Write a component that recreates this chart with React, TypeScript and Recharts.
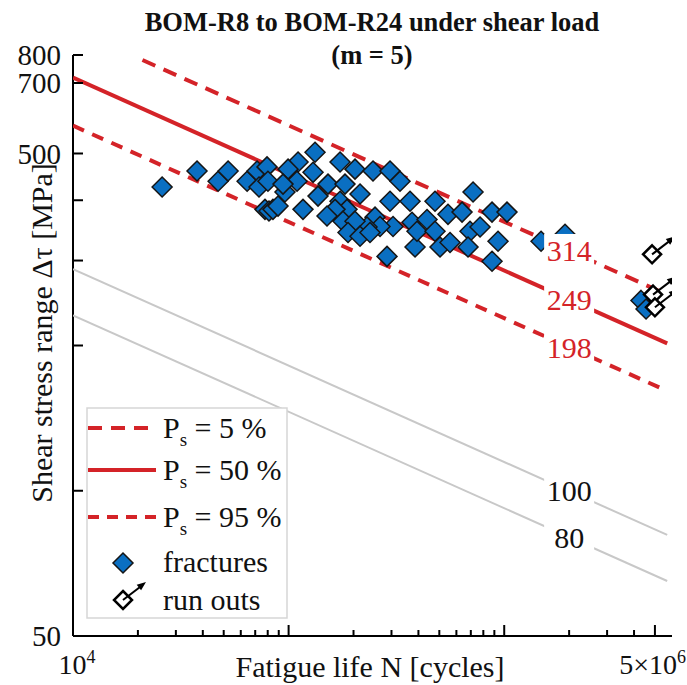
import { ComposedChart, Scatter, XAxis, YAxis } from "recharts"

const RED = "#d42328"
const BLUE = "#0a6fc2"
const GREY = "#c8c8c8"
const FONT = '"Liberation Serif", "Times New Roman", serif'

// S-N curves (m = 5): end points
const curveN = [1e4, 5.7e6]
const p50S = [718, 202]
const p95S = [571, 161]
const p05N = [2.1e4, 5.7e6]
const p05S = [781, 255]
const ref100S = [288, 81]
const ref80S = [231, 65]

// curve labels sit at N = 2e6
const labelN = 2e6
const redLabels = [314, 249, 198]
const greyLabels = [100, 80]

// fractures
const fracN = [
  25900, 37600, 47100, 52400, 64200, 71400, 72900, 79400, 80200, 77700,
  81100, 84600, 89300, 96200, 132600, 110600, 173200, 203200, 246300, 295300,
  328600, 99400, 129800, 109400, 152300, 182600, 94200, 136900, 214400, 173200,
  295300, 365700, 116600, 186600, 164200, 150700, 251600, 373600, 305000, 265400,
  231000, 178800, 203200, 188600, 214400, 238500, 286000, 385800, 716800, 477500,
  548500, 637400, 877900, 1030000, 438500, 394000, 477500, 694000, 772500, 936000,
  503800, 560600, 679400, 877900, 1482000, 1914000, 4310000, 4547000,
]
const fracS = [
  426, 460, 438, 460, 438, 460, 426, 469, 438, 383,
  380, 383, 389, 416, 503, 480, 480, 464, 460, 460,
  438, 464, 457, 438, 432, 432, 432, 408, 412, 398,
  398, 398, 383, 383, 383, 371, 369, 360, 353, 353,
  352, 362, 362, 343, 337, 343, 306, 320, 416, 398,
  374, 378, 378, 378, 365, 345, 345, 345, 352, 329,
  320, 327, 320, 299, 329, 340, 248, 238,
]

// run outs
const runOutN = [4.85e6, 4.9e6, 5.0e6]
const runOutS = [309, 255, 240]

const xTicks = [
  1e4, 2e4, 3e4, 4e4, 5e4, 6e4, 7e4, 8e4, 9e4,
  1e5, 2e5, 3e5, 4e5, 5e5, 6e5, 7e5, 8e5, 9e5,
  1e6, 2e6, 3e6, 4e6, 5e6,
]
const xMajor = [1e4, 1e5, 1e6, 5e6]
const xTickText: Record<number, [string, string]> = {
  10000: ["10", "4"],
  5000000: ["5×10", "6"],
}
const yTicks = [50, 100, 200, 300, 400, 500, 700, 800]
const yLabelled = [50, 500, 700, 800]

const zip = (ns: number[], ss: number[]) => ns.map((N, i) => ({ N, S: ss[i] }))

const diamond = (cx: number, cy: number, r: number) =>
  `M${cx},${cy - r}L${cx + r},${cy}L${cx},${cy + r}L${cx - r},${cy}Z`

const noDot = () => <g />

function Fracture({ cx, cy }: any) {
  return <path d={diamond(cx, cy, 10)} fill={BLUE} stroke="#151515" strokeWidth={1.5} />
}

function RunOutIcon({ cx, cy }: { cx: number; cy: number }) {
  return (
    <g>
      <path d={diamond(cx, cy, 9)} fill="#fff" stroke="#000" strokeWidth={2.5} />
      <line x1={cx} y1={cy} x2={cx + 17} y2={cy - 13} stroke="#000" strokeWidth={2} />
      <path
        d={`M${cx + 23},${cy - 18}L${cx + 18.1},${cy - 9.7}L${cx + 13.7},${cy - 15.3}Z`}
        fill="#000"
      />
    </g>
  )
}

function RunOut({ cx, cy }: any) {
  return <RunOutIcon cx={cx} cy={cy} />
}

function curveLabel(color: string) {
  return ({ cx, cy, payload }: any) => (
    <g>
      <rect x={cx - 25} y={cy - 17} width={50} height={34} fill="#fff" />
      <text
        x={cx}
        y={cy}
        dy="0.35em"
        textAnchor="middle"
        fontSize={30}
        fontFamily={FONT}
        fill={color}
      >
        {payload.S}
      </text>
    </g>
  )
}

function XTick({ x, y, payload }: any) {
  const v = payload.value
  const len = xMajor.includes(v) ? 11 : 6
  const lab = xTickText[v]
  // keep the last label inside the picture
  const last = v === xTicks[xTicks.length - 1]
  return (
    <g>
      <line x1={x} x2={x} y1={y} y2={y - len} stroke="#000" strokeWidth={2} />
      {lab && (
        <text
          x={last ? 686 : x + 4}
          y={y + 38}
          textAnchor={last ? "end" : "middle"}
          fontSize={28}
          fontFamily={FONT}
          fill="#111"
        >
          {lab[0]}
          <tspan dy={-11} fontSize={18}>
            {lab[1]}
          </tspan>
        </text>
      )}
    </g>
  )
}

function YTick({ x, y, payload }: any) {
  const v = payload.value
  return (
    <g>
      <line x1={x} x2={x + 10} y1={y} y2={y} stroke="#000" strokeWidth={2} />
      {yLabelled.includes(v) && (
        <text x={x - 12} y={y} dy="0.35em" textAnchor="end" fontSize={29} fontFamily={FONT} fill="#111">
          {v}
        </text>
      )}
    </g>
  )
}

function Legend() {
  const rows = [
    { y: 428, dash: "14 9", sub: " = 5 %" },
    { y: 470, dash: undefined, sub: " = 50 %" },
    { y: 517, dash: "11 8", sub: " = 95 %" },
  ]
  return (
    <g fontFamily={FONT} fontSize={30} fill="#111">
      <rect x={87} y={408} width={200} height={210} fill="#fff" stroke="#d6d6d6" strokeWidth={1.5} />
      {rows.map((r) => (
        <g key={r.y}>
          <line x1={88} x2={156} y1={r.y} y2={r.y} stroke={RED} strokeWidth={4} strokeDasharray={r.dash} />
          <text x={163} y={r.y + 10}>
            P
            <tspan dy={8} fontSize={19}>
              s
            </tspan>
            <tspan dy={-8}>{r.sub}</tspan>
          </text>
        </g>
      ))}
      <path d={diamond(123, 563, 10)} fill={BLUE} stroke="#151515" strokeWidth={1.5} />
      <text x={163} y={572}>fractures</text>
      <RunOutIcon cx={123} cy={600} />
      <text x={163} y={610}>run outs</text>
    </g>
  )
}

export default function App() {
  return (
    <div style={{ position: "absolute", left: 0, top: 0, width: 687, height: 685, background: "#fff" }}>
      <ComposedChart
        width={687}
        height={685}
        margin={{ top: 55, right: 15, bottom: 19, left: 13 }}
      >
        <XAxis
          dataKey="N"
          type="number"
          scale="log"
          domain={[1e4, 6e6]}
          allowDataOverflow
          ticks={xTicks}
          interval={0}
          height={30}
          tickSize={0}
          tickMargin={0}
          tickLine={false}
          tick={<XTick />}
          axisLine={{ stroke: "#000", strokeWidth: 2 }}
        />
        <YAxis
          dataKey="S"
          type="number"
          scale="log"
          domain={[50, 800]}
          allowDataOverflow
          ticks={yTicks}
          interval={0}
          width={60}
          tickSize={0}
          tickMargin={0}
          tickLine={false}
          tick={<YTick />}
          axisLine={{ stroke: "#000", strokeWidth: 2 }}
        />
        <Scatter data={zip(curveN, ref100S)} line={{ stroke: GREY, strokeWidth: 2 }} shape={noDot} isAnimationActive={false} />
        <Scatter data={zip(curveN, ref80S)} line={{ stroke: GREY, strokeWidth: 2 }} shape={noDot} isAnimationActive={false} />
        <Scatter data={zip(p05N, p05S)} line={{ stroke: RED, strokeWidth: 4, strokeDasharray: "14 9" }} shape={noDot} isAnimationActive={false} />
        <Scatter data={zip(curveN, p50S)} line={{ stroke: RED, strokeWidth: 4 }} shape={noDot} isAnimationActive={false} />
        <Scatter data={zip(curveN, p95S)} line={{ stroke: RED, strokeWidth: 4, strokeDasharray: "12 9" }} shape={noDot} isAnimationActive={false} />
        <Scatter data={zip(fracN, fracS)} shape={Fracture} isAnimationActive={false} />
        <Scatter data={zip(runOutN, runOutS)} shape={RunOut} isAnimationActive={false} />
        <Scatter
          data={redLabels.map((S) => ({ N: labelN, S }))}
          shape={curveLabel(RED)}
          isAnimationActive={false}
        />
        <Scatter
          data={greyLabels.map((S) => ({ N: labelN, S }))}
          shape={curveLabel("#111")}
          isAnimationActive={false}
        />
      </ComposedChart>
      <svg
        width={687}
        height={685}
        style={{ position: "absolute", left: 0, top: 0, pointerEvents: "none" }}
      >
        <g fontFamily={FONT} fill="#111">
          <text x={372} y={31} textAnchor="middle" fontSize={26.5} fontWeight="bold">
            BOM-R8 to BOM-R24 under shear load
          </text>
          <text x={372} y={64} textAnchor="middle" fontSize={26.5} fontWeight="bold">
            (m = 5)
          </text>
          <text x={370} y={677} textAnchor="middle" fontSize={30}>
            Fatigue life N [cycles]
          </text>
          <text
            x={41}
            y={333}
            transform="rotate(-90, 41, 333)"
            textAnchor="middle"
            dominantBaseline="central"
            fontSize={30}
          >
            Shear stress range Δτ [MPa]
          </text>
        </g>
        <Legend />
      </svg>
    </div>
  )
}
